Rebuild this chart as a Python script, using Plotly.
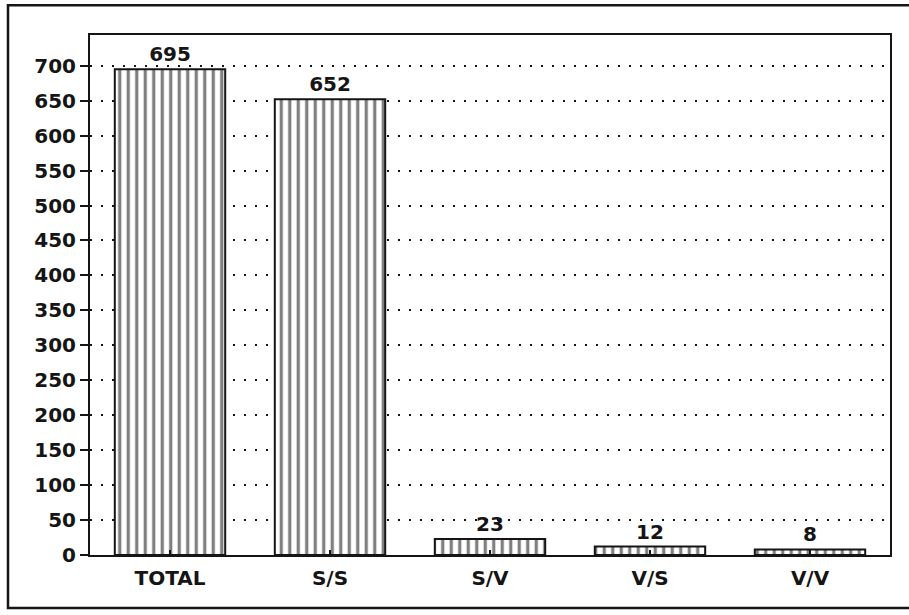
import plotly.graph_objects as go

categories = ["TOTAL", "S/S", "S/V", "V/S", "V/V"]
values = [695, 652, 23, 12, 8]
y_ticks = list(range(0, 701, 50))

ink = "#151515"
font_main = dict(family="DejaVu Sans", size=20, color=ink, weight="bold")

fig = go.Figure()
fig.add_trace(go.Bar(
    x=categories,
    y=values,
    width=0.69,
    marker=dict(
        color="white",
        line=dict(color=ink, width=2),
        pattern=dict(shape="|", fgcolor="#000000", bgcolor="white", size=8.5, solidity=0.38),
    ),
    text=[str(v) for v in values],
    textposition="outside",
    textfont=font_main,
    cliponaxis=False,
    showlegend=False,
    hoverinfo="skip",
))

fig.update_layout(
    width=909, height=615,
    margin=dict(l=90, r=19, t=35, b=60),
    paper_bgcolor="white",
    plot_bgcolor="white",
    xaxis=dict(
        showline=True, mirror=True, linecolor=ink, linewidth=2,
        ticks="inside", ticklen=5, tickwidth=2, tickcolor=ink,
        tickfont=font_main, showgrid=False, ticklabelstandoff=4,
    ),
    yaxis=dict(
        range=[0, 744], tickvals=y_ticks,
        showline=True, mirror=True, linecolor=ink, linewidth=2,
        ticks="outside", ticklen=8, tickwidth=2, tickcolor=ink,
        tickfont=font_main,
        showgrid=True, gridcolor=ink, gridwidth=2, griddash="2px,9px",
        zeroline=False,
    ),
    shapes=[dict(
        type="rect", xref="paper", yref="paper",
        x0=-0.1025, x1=1.06, y0=-0.102, y1=1.057,
        line=dict(color=ink, width=2.5),
    )],
)

fig.write_html(
    "out.html",
    config={"displayModeBar": False},
    post_script="document.body.style.margin='0';",
)
